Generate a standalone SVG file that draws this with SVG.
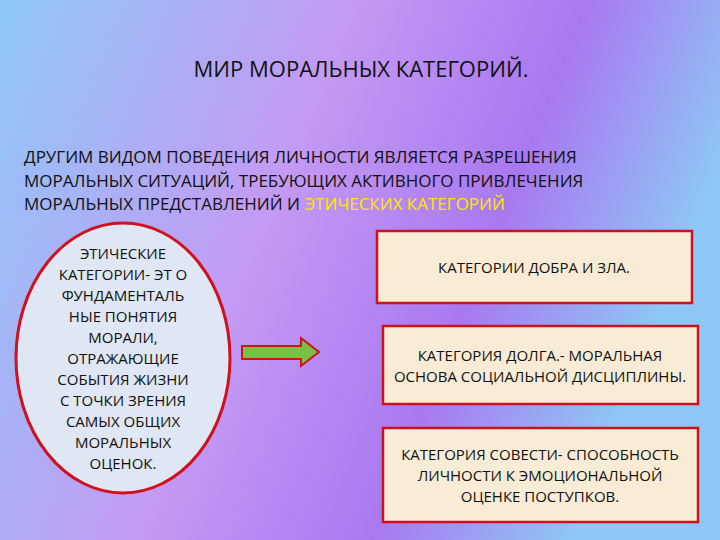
<svg xmlns="http://www.w3.org/2000/svg" width="720" height="540" viewBox="0 0 720 540">
<defs>
<linearGradient id="bg" x1="0" y1="0" x2="1" y2="0.3">
<stop offset="0" stop-color="#8fc8f8"/>
<stop offset="0.45" stop-color="#c49af4"/>
<stop offset="0.75" stop-color="#a978f0"/>
<stop offset="1" stop-color="#8ec6f6"/>
</linearGradient>
<style>
text{font-family:"Open Sans","Liberation Sans",sans-serif;fill:#111;text-anchor:middle}
.t{font-size:15px}
.box{fill:#f8ecd6;stroke:#d0101c;stroke-width:2.5}
</style>
</defs>
<rect width="720" height="540" fill="url(#bg)"/>
<text x="361" y="77" style="font-size:22px">МИР МОРАЛЬНЫХ КАТЕГОРИЙ.</text>
<g style="font-size:17px">
<text x="24" y="163" style="text-anchor:start">ДРУГИМ  ВИДОМ ПОВЕДЕНИЯ ЛИЧНОСТИ ЯВЛЯЕТСЯ РАЗРЕШЕНИЯ</text>
<text x="24" y="187" style="text-anchor:start">МОРАЛЬНЫХ СИТУАЦИЙ, ТРЕБУЮЩИХ  АКТИВНОГО ПРИВЛЕЧЕНИЯ</text>
<text x="24" y="210" style="text-anchor:start">МОРАЛЬНЫХ ПРЕДСТАВЛЕНИЙ И  <tspan fill="#ffe600">ЭТИЧЕСКИХ КАТЕГОРИЙ</tspan></text>
</g>
<g id="ellipse">
<ellipse cx="123" cy="358" rx="107" ry="135" fill="#dfe6f4" stroke="#d0101c" stroke-width="3"/>
<text class="t" x="123" y="259">ЭТИЧЕСКИЕ</text>
<text class="t" x="123" y="280">КАТЕГОРИИ- ЭТ О</text>
<text class="t" x="123" y="301">ФУНДАМЕНТАЛЬ</text>
<text class="t" x="123" y="322">НЫЕ  ПОНЯТИЯ</text>
<text class="t" x="123" y="343">МОРАЛИ,</text>
<text class="t" x="123" y="364">ОТРАЖАЮЩИЕ</text>
<text class="t" x="123" y="385">СОБЫТИЯ ЖИЗНИ</text>
<text class="t" x="123" y="406">С ТОЧКИ ЗРЕНИЯ</text>
<text class="t" x="123" y="427">САМЫХ ОБЩИХ</text>
<text class="t" x="123" y="448">МОРАЛЬНЫХ</text>
<text class="t" x="123" y="469">ОЦЕНОК.</text>
</g>
<g id="connectors">
<polygon points="242,346 301,346 301,338 319,352 301,366 301,359 242,359" fill="#7cc043" stroke="#d0101c" stroke-width="2"/>
</g>
<g id="b1">
<rect class="box" x="377" y="231" width="315" height="72"/>
<text class="t" x="534" y="273">КАТЕГОРИИ  ДОБРА И ЗЛА.</text>
</g>
<g id="b2">
<rect class="box" x="383" y="326" width="315" height="78"/>
<text class="t" x="540" y="361">КАТЕГОРИЯ  ДОЛГА.- МОРАЛЬНАЯ</text>
<text class="t" x="540" y="382">ОСНОВА  СОЦИАЛЬНОЙ ДИСЦИПЛИНЫ.</text>
</g>
<g id="b3">
<rect class="box" x="383" y="428" width="315" height="94"/>
<text class="t" x="540" y="460">КАТЕГОРИЯ  СОВЕСТИ- СПОСОБНОСТЬ</text>
<text class="t" x="540" y="481">ЛИЧНОСТИ  К ЭМОЦИОНАЛЬНОЙ</text>
<text class="t" x="540" y="502">ОЦЕНКЕ ПОСТУПКОВ.</text>
</g>
</svg>
